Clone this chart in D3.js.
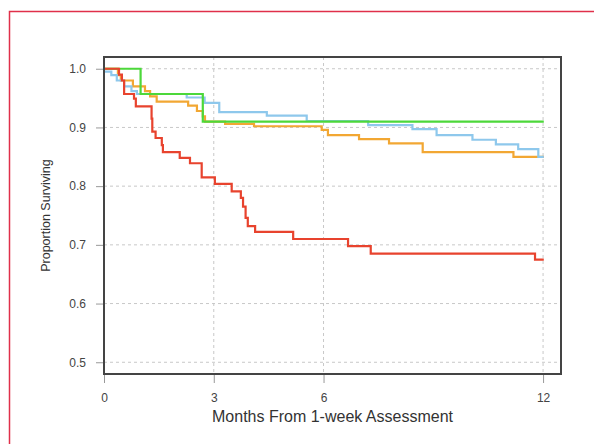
<!DOCTYPE html>
<html>
<head>
<meta charset="utf-8">
<script src="https://cdn.jsdelivr.net/npm/d3@7"></script>
<style>
  body { margin: 0; background: #fff; }
  svg { display: block; font-family: "Liberation Sans", Arial, sans-serif; }
</style>
</head>
<body>
<svg id="chart"></svg>
<script>
// survival curves (months, proportion)
const redTimes = [0, 0.41, 0.49, 0.55, 0.82, 0.87, 1.30, 1.32, 1.41, 1.58, 1.61, 2.07, 2.35, 2.67, 3.03, 3.49, 3.74, 3.80, 3.87, 3.93, 4.13, 5.17, 6.67, 7.29, 11.78, 12.02];
const redSurv  = [1, 0.990, 0.980, 0.957, 0.949, 0.936, 0.915, 0.893, 0.882, 0.870, 0.858, 0.848, 0.839, 0.815, 0.804, 0.791, 0.780, 0.765, 0.746, 0.732, 0.722, 0.710, 0.698, 0.685, 0.675, 0.675];

const orangeTimes = [0, 0.38, 0.46, 0.79, 1.12, 1.26, 1.44, 2.30, 2.54, 2.70, 2.76, 3.31, 4.10, 5.95, 6.12, 6.97, 7.79, 8.71, 11.19, 12.02];
const orangeSurv  = [1, 0.989, 0.980, 0.970, 0.962, 0.953, 0.944, 0.937, 0.928, 0.919, 0.910, 0.906, 0.902, 0.896, 0.887, 0.880, 0.873, 0.858, 0.850, 0.850];

const blueTimes = [0, 0.20, 0.35, 0.55, 0.75, 0.90, 2.26, 2.75, 3.15, 4.45, 5.54, 7.22, 8.43, 9.09, 10.07, 10.71, 11.32, 11.87, 12.02];
const blueSurv  = [0.995, 0.989, 0.980, 0.970, 0.962, 0.957, 0.951, 0.942, 0.926, 0.920, 0.911, 0.904, 0.897, 0.887, 0.879, 0.871, 0.863, 0.850, 0.850];

const greenTimes = [0, 1.00, 2.70, 12.02];
const greenSurv  = [1, 0.957, 0.910, 0.910];

const xTicks = [0, 3, 6, 12];
const yTicks = [0.5, 0.6, 0.7, 0.8, 0.9, 1.0];

const width = 594, height = 444;
const box = { left: 104, right: 561, top: 57, bottom: 374 };

const svg = d3.select('#chart').attr('width', width).attr('height', height);

// red frame, cropped on right and bottom
svg.append('rect')
  .attr('x', 9.5).attr('y', 11.5)
  .attr('width', width + 20).attr('height', height + 20)
  .attr('fill', 'none').attr('stroke', '#e0304a').attr('stroke-width', 1.5);

const x = d3.scaleLinear().domain([0, 12.49]).range([box.left, box.right]);
const y = d3.scaleLinear().domain([0.48, 1.02]).range([box.bottom, box.top]);

// grid
svg.append('g').selectAll('line')
  .data(yTicks).enter().append('line')
  .attr('x1', box.left).attr('x2', box.right)
  .attr('y1', d => y(d)).attr('y2', d => y(d))
  .attr('stroke', '#c8c8c8').attr('stroke-dasharray', '3,3');

svg.append('g').selectAll('line')
  .data(xTicks.filter(d => d > 0)).enter().append('line')
  .attr('x1', d => x(d)).attr('x2', d => x(d))
  .attr('y1', box.top).attr('y2', box.bottom)
  .attr('stroke', '#c8c8c8').attr('stroke-dasharray', '3,3');

// axes
const xAxis = svg.append('g')
  .attr('transform', `translate(0,${box.bottom})`)
  .call(d3.axisBottom(x).tickValues(xTicks).tickSize(9).tickPadding(10).tickFormat(d3.format('d')));
const yAxis = svg.append('g')
  .attr('transform', `translate(${box.left},0)`)
  .call(d3.axisLeft(y).tickValues(yTicks).tickSize(8).tickPadding(10).tickFormat(d3.format('.1f')));

[xAxis, yAxis].forEach(a => {
  a.select('.domain').remove();
  a.selectAll('.tick line').attr('stroke', '#999');
  a.selectAll('.tick text').attr('fill', '#444').style('font-size', '12px');
});

// curves
const line = d3.line()
  .x(d => x(d[0]))
  .y(d => y(d[1]))
  .curve(d3.curveStepAfter);

const series = [
  { times: orangeTimes, surv: orangeSurv, color: '#f2a733' },
  { times: blueTimes, surv: blueSurv, color: '#8ec8ec' },
  { times: greenTimes, surv: greenSurv, color: '#4cd83a' },
  { times: redTimes, surv: redSurv, color: '#e8432e' }
];

svg.append('g').selectAll('path')
  .data(series).enter().append('path')
  .attr('d', s => line(d3.zip(s.times, s.surv)))
  .attr('fill', 'none')
  .attr('stroke', s => s.color)
  .attr('stroke-width', 2.2);

// plot box
svg.append('rect')
  .attr('x', box.left).attr('y', box.top)
  .attr('width', box.right - box.left).attr('height', box.bottom - box.top)
  .attr('fill', 'none').attr('stroke', '#444').attr('stroke-width', 2);

// axis titles
svg.append('text')
  .attr('x', (box.left + box.right) / 2).attr('y', 422)
  .attr('text-anchor', 'middle')
  .attr('fill', '#333')
  .style('font-size', '16px')
  .text('Months From 1-week Assessment');

svg.append('text')
  .attr('transform', `translate(50,${(box.top + box.bottom) / 2}) rotate(-90)`)
  .attr('text-anchor', 'middle')
  .attr('fill', '#333')
  .style('font-size', '12.5px')
  .text('Proportion Surviving');
</script>
</body>
</html>
